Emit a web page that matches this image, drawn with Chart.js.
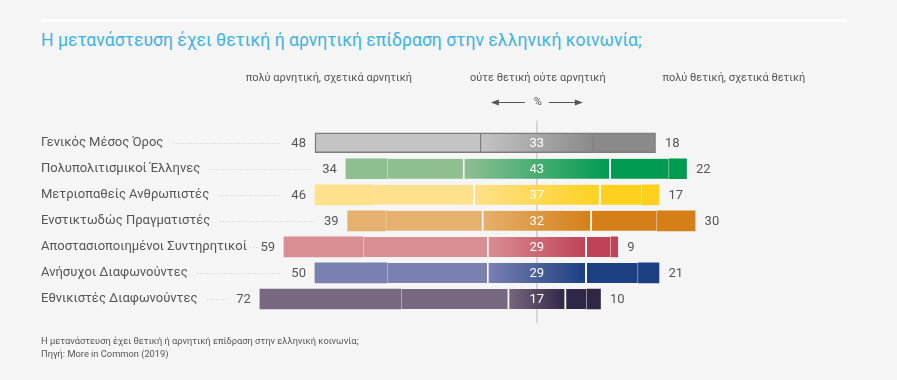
<!DOCTYPE html>
<html><head><meta charset="utf-8">
<script src="https://cdn.jsdelivr.net/npm/chart.js@4.4.1/dist/chart.umd.min.js"></script>
<style>
html,body{margin:0;padding:0;background:#f5f5f5;}
#wrap{position:relative;width:897px;height:380px;overflow:hidden;background:#f5f5f5;font-family:Roboto,'Noto Sans',sans-serif;}
#rule{position:absolute;left:41px;top:19px;width:806px;height:3px;background:#ffffff;}
#title{position:absolute;left:41px;top:29px;font-size:17.6px;color:#3db3e3;white-space:nowrap;line-height:22px;}
#foot{position:absolute;left:41px;top:334px;font-size:9.3px;color:#555;line-height:13px;white-space:nowrap;}
canvas{position:absolute;left:0;top:0;}
</style></head>
<body><div id="wrap">
<div id="rule"></div>
<div id="title">Η μετανάστευση έχει θετική ή αρνητική επίδραση στην ελληνική κοινωνία;</div>
<canvas id="c" width="897" height="380"></canvas>
<div id="foot">Η μετανάστευση έχει θετική ή αρνητική επίδραση στην ελληνική κοινωνία;<br>Πηγή: More in Common (2019)</div>
</div>
<script>
const categories = ['Γενικός Μέσος Όρος','Πολυπολιτισμικοί Έλληνες','Μετριοπαθείς Ανθρωπιστές','Ενστικτωδώς Πραγματιστές','Αποστασιοποιημένοι Συντηρητικοί','Ανήσυχοι Διαφωνούντες','Εθνικιστές Διαφωνούντες'];
const negative = [48,34,46,39,59,50,72];      // πολύ + σχετικά αρνητική
const neutral  = [33,43,37,32,29,29,17];      // ούτε θετική ούτε αρνητική
const positive = [18,22,17,30,9,21,10];       // πολύ + σχετικά θετική
const veryNegative = [null,12,17,11,23,21,41]; // share of "πολύ αρνητική" (split line)
const veryPositive = [null,5,5,11,2,6,4];      // share of "πολύ θετική" (split line)
const headers = ['πολύ αρνητική, σχετικά αρνητική','ούτε θετική ούτε αρνητική','πολύ θετική, σχετικά θετική'];

const negColors = ['#c4c4c4','#8fbf91','#ffe08c','#e6b06e','#d98e93','#7a80b2','#766880'];
const posColors = ['#8a8a8a','#009a51','#ffd11f','#d47f17','#bf4357','#1c3f82','#302646'];
const outline   = ['#7c7c7c',null,null,null,null,null,null];
const FAINT = 'rgba(255,255,255,0.22)';
const FONT = "Roboto, 'Noto Sans', sans-serif";

const half = i => neutral[i]/2;
const dVeryNeg = categories.map((c,i)=> veryNegative[i]==null ? null : [-(half(i)+negative[i]), -(half(i)+negative[i])+veryNegative[i]]);
const dSomeNeg = categories.map((c,i)=> [-(half(i)+negative[i])+(veryNegative[i]||0), -half(i)]);
const dNeutral = categories.map((c,i)=> [-half(i), half(i)]);
const dSomePos = categories.map((c,i)=> [half(i), half(i)+positive[i]-(veryPositive[i]||0)]);
const dVeryPos = categories.map((c,i)=> veryPositive[i]==null ? null : [half(i)+positive[i]-veryPositive[i], half(i)+positive[i]]);

function neutralFill(c){
  const i = c.dataIndex, chart = c.chart, xs = chart.scales && chart.scales.x;
  if(!xs) return negColors[i];
  const x0 = xs.getPixelForValue(-half(i)), x1 = xs.getPixelForValue(half(i));
  if(!isFinite(x0)||!isFinite(x1)||x1<=x0) return negColors[i];
  const g = chart.ctx.createLinearGradient(x0,0,x1,0);
  g.addColorStop(0,negColors[i]); g.addColorStop(1,posColors[i]);
  return g;
}

const decor = {
  id:'decor',
  beforeDatasetsDraw(chart){
    const {ctx, scales:{x}, chartArea} = chart;
    const cx = x.getPixelForValue(0);
    ctx.save();
    ctx.strokeStyle='#cfcfcf'; ctx.lineWidth=1.5;
    ctx.beginPath(); ctx.moveTo(cx, chartArea.top-9); ctx.lineTo(cx, chartArea.bottom+11); ctx.stroke();
    ctx.restore();
  },
  afterDatasetsDraw(chart){
    const {ctx, scales:{x,y}} = chart;
    const cx = x.getPixelForValue(0);
    ctx.save();
    ctx.textBaseline='middle';
    categories.forEach((cat,i)=>{
      const yy = y.getPixelForValue(i);
      const left = x.getPixelForValue(-(half(i)+negative[i]));
      const right = x.getPixelForValue(half(i)+positive[i]);
      ctx.font = `13px ${FONT}`;
      ctx.fillStyle='#555';
      ctx.textAlign='right';
      const nTxt = String(negative[i]);
      const nx = left-9;
      ctx.fillText(nTxt, nx, yy+1);
      ctx.textAlign='left';
      ctx.fillText(String(positive[i]), right+9.5, yy+1);
      ctx.textAlign='center'; ctx.fillStyle='#ffffff';
      ctx.fillText(String(neutral[i]), cx, yy+1);
      const lw = ctx.measureText(cat).width;
      const x0 = y.left + lw + 10;
      const x1 = nx - ctx.measureText(nTxt).width - 10;
      ctx.strokeStyle='#cccccc'; ctx.lineWidth=1; ctx.setLineDash([1,2]);
      ctx.beginPath(); ctx.moveTo(x0, Math.round(yy)+0.5); ctx.lineTo(x1, Math.round(yy)+0.5); ctx.stroke();
      ctx.setLineDash([]);
    });
    // column headers
    ctx.font = `11px ${FONT}`; ctx.fillStyle='#555'; ctx.textAlign='center';
    ctx.fillText(headers[0], cx-208, 78);
    ctx.fillText(headers[1], cx+1, 78);
    ctx.fillText(headers[2], cx+197, 78);
    // % with arrows
    const ay = 102.5;
    ctx.fillText('%', cx+1, ay);
    ctx.strokeStyle='#555'; ctx.lineWidth=1;
    ctx.beginPath(); ctx.moveTo(cx-40, ay); ctx.lineTo(cx-12, ay); ctx.moveTo(cx+12, ay); ctx.lineTo(cx+40, ay); ctx.stroke();
    ctx.beginPath(); ctx.moveTo(cx-46, ay); ctx.lineTo(cx-38, ay-3); ctx.lineTo(cx-38, ay+3); ctx.closePath(); ctx.fill();
    ctx.beginPath(); ctx.moveTo(cx+46, ay); ctx.lineTo(cx+38, ay-3); ctx.lineTo(cx+38, ay+3); ctx.closePath(); ctx.fill();
    ctx.restore();
  }
};

const ctxEl = document.getElementById('c');
new Chart(ctxEl, {
  type:'bar',
  data:{
    labels: categories,
    datasets:[
      {label:'πολύ αρνητική', data:dVeryNeg, backgroundColor:c=>negColors[c.dataIndex], borderWidth:0},
      {label:'σχετικά αρνητική', data:dSomeNeg, backgroundColor:c=>negColors[c.dataIndex],
        borderColor:c=>outline[c.dataIndex]||FAINT,
        borderWidth:c=>{const i=c.dataIndex; return outline[i]?{left:1.5,top:1.5,bottom:1.5,right:0}:{left:veryNegative[i]!=null?1:0,top:0,bottom:0,right:0};}},
      {label:'ούτε θετική ούτε αρνητική', data:dNeutral, backgroundColor:neutralFill,
        borderColor:c=>outline[c.dataIndex]||'#ffffff',
        borderWidth:c=>outline[c.dataIndex]?{left:1.5,right:1.5,top:1.5,bottom:1.5}:{left:2,right:2,top:0,bottom:0}},
      {label:'σχετικά θετική', data:dSomePos, backgroundColor:c=>posColors[c.dataIndex],
        borderColor:c=>outline[c.dataIndex]||FAINT,
        borderWidth:c=>{const i=c.dataIndex; return outline[i]?{right:1.5,top:1.5,bottom:1.5,left:0}:{right:veryPositive[i]!=null?1:0,top:0,bottom:0,left:0};}},
      {label:'πολύ θετική', data:dVeryPos, backgroundColor:c=>posColors[c.dataIndex], borderWidth:0}
    ]
  },
  options:{
    indexAxis:'y',
    responsive:false,
    animation:false,
    events:[],
    datasets:{bar:{grouped:false, barThickness:20, borderSkipped:false, borderRadius:0}},
    layout:{padding:{left:41,right:81.5,top:129.7,bottom:68}},
    plugins:{legend:{display:false},tooltip:{enabled:false},title:{display:false}},
    scales:{
      x:{type:'linear',min:-81,max:81,stacked:false,display:false},
      y:{type:'category',stacked:false,grid:{display:false},border:{display:false},
         ticks:{color:'#555',font:{size:13,family:FONT},crossAlign:'far',padding:0},
         afterFit:s=>{s.width=217.2;}}
    }
  },
  plugins:[decor]
});
</script>
</body></html>
